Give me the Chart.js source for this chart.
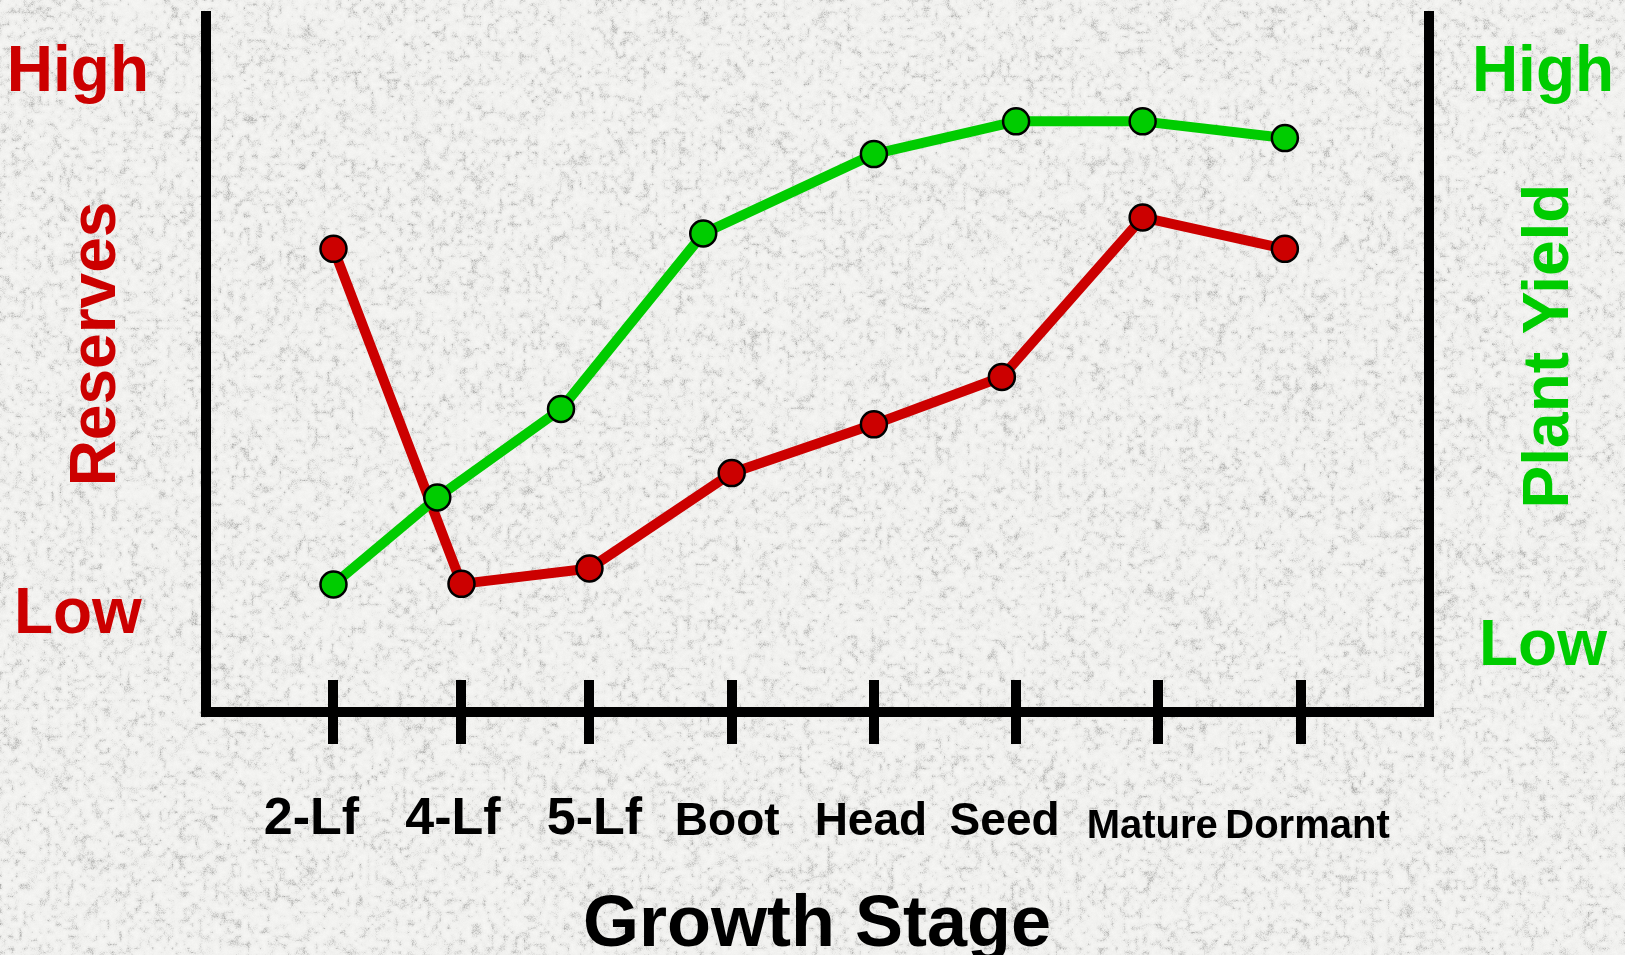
<!DOCTYPE html>
<html>
<head>
<meta charset="utf-8">
<title>Reserves and Plant Yield by Growth Stage</title>
<script src="https://cdn.jsdelivr.net/npm/chart.js@4/dist/chart.umd.min.js"></script>
<style>
  html, body { margin: 0; padding: 0; background: #ebebe9; }
  canvas { display: block; }
</style>
</head>
<body>
<canvas id="chart" width="1625" height="955"></canvas>
<script>
// ---- data -------------------------------------------------------------
const stages = ['2-Lf', '4-Lf', '5-Lf', 'Boot', 'Head', 'Seed', 'Mature', 'Dormant'];
// where each growth stage sits along the stage axis
const stagePos = [0, 0.9, 1.8, 2.8, 3.8, 4.8, 5.8, 6.8];

// carbohydrate reserves (0 = bottom of frame, 100 = top)
const reservesX = [0, 0.9, 1.8, 2.8, 3.8, 4.7, 5.69, 6.69];
const reservesY = [66.5, 18.4, 20.6, 34.3, 41.3, 48.1, 71.0, 66.5];

// plant yield on the same 0-100 frame
const yieldX = [0, 0.73, 1.6, 2.6, 3.8, 4.8, 5.69, 6.69];
const yieldY = [18.3, 30.8, 43.5, 68.7, 80.1, 84.8, 84.8, 82.4];

// qualitative tick labels for the two value axes
const reserveTickValues = [13.9, 91.7];
const reserveTickText = ['Low', 'High'];
const yieldTickValues = [9.3, 91.7];
const yieldTickText = ['Low', 'High'];

// ---- styling ----------------------------------------------------------
const RED = '#cc0000';
const GREEN = '#00cc00';
const INK = '#000000';
const FONT = '"Liberation Sans", Arial, Helvetica, sans-serif';

// stage names shrink a little toward the right end of the axis
const stageFontSize = { '2-Lf': 52, '4-Lf': 52, '5-Lf': 52, 'Boot': 46, 'Head': 46, 'Seed': 46, 'Mature': 40, 'Dormant': 40 };
// small sideways shifts of the stage names relative to their tick marks (px)
const stageNudge = { '2-Lf': -22, '4-Lf': -8.5, '5-Lf': 5, 'Boot': -4.5, 'Head': -3, 'Seed': -11.5, 'Mature': -6, 'Dormant': 7 };

function stageFont(index) {
  const size = stageFontSize[stages[index]] || 46;
  // line height chosen so the names share a baseline (smaller ones sit a touch lower)
  const drop = size <= 40 ? 55 : 52;
  const lh = 2 * (drop - 0.3465 * size);
  return { family: FONT, weight: 'bold', size: size, lineHeight: lh + 'px' };
}

// ---- textured paper background ------------------------------------------
function makeTexture(w, h) {
  const cv = document.createElement('canvas');
  cv.width = w; cv.height = h;
  const g = cv.getContext('2d');
  const img = g.createImageData(w, h);
  let s = 20240611;
  const rnd = () => {
    s = (s + 0x6D2B79F5) | 0;
    let t = Math.imul(s ^ (s >>> 15), 1 | s);
    t = (t + Math.imul(t ^ (t >>> 7), 61 | t)) ^ t;
    return ((t ^ (t >>> 14)) >>> 0) / 4294967296;
  };
  const cell = 4;
  const gw = Math.ceil(w / cell) + 2, gh = Math.ceil(h / cell) + 2;
  const grid = new Float32Array(gw * gh);
  for (let i = 0; i < grid.length; i++) grid[i] = rnd();
  for (let y = 0; y < h; y++) {
    const gy = y / cell, y0 = Math.floor(gy), fy = gy - y0;
    for (let x = 0; x < w; x++) {
      const gx = x / cell, x0 = Math.floor(gx), fx = gx - x0;
      const a = grid[y0 * gw + x0], b = grid[y0 * gw + x0 + 1];
      const c = grid[(y0 + 1) * gw + x0], d = grid[(y0 + 1) * gw + x0 + 1];
      const n = (a * (1 - fx) + b * fx) * (1 - fy) + (c * (1 - fx) + d * fx) * fy;
      const v = 0.75 * n + 0.25 * rnd();
      const dark = Math.max(0, v - 0.5) / 0.5;
      const base = 247 - 14 * v - 62 * dark * dark;
      const k = (y * w + x) * 4;
      img.data[k] = base; img.data[k + 1] = base; img.data[k + 2] = base - 2; img.data[k + 3] = 255;
    }
  }
  g.putImageData(img, 0, 0);
  return cv;
}
const paper = makeTexture(1625, 955);

const paperBackground = {
  id: 'paperBackground',
  beforeDraw(chart) {
    chart.ctx.drawImage(paper, 0, 0);
  }
};

// shift stage names sideways once the label layout is known
const stageLabelNudge = {
  id: 'stageLabelNudge',
  afterLayout(chart) {
    const xs = chart.scales.x;
    const items = xs.getLabelItems(chart.chartArea);
    items.forEach((item, i) => {
      const dx = stageNudge[stages[i]] || 0;
      item.options.translation[0] += dx;
    });
  }
};

// tick marks cross the stage axis: the library draws the lower half,
// this adds the half that rises into the plot
const stageTickStubs = {
  id: 'stageTickStubs',
  beforeDatasetsDraw(chart) {
    const xs = chart.scales.x;
    const { ctx, chartArea } = chart;
    ctx.save();
    ctx.strokeStyle = INK;
    ctx.lineWidth = 10;
    ctx.lineCap = 'butt';
    xs.ticks.forEach((t, i) => {
      const px = Math.round(xs.getPixelForTick(i));
      ctx.beginPath();
      ctx.moveTo(px, chartArea.bottom - 32);
      ctx.lineTo(px, chartArea.bottom);
      ctx.stroke();
    });
    ctx.restore();
  }
};

// rotated side titles, both reading upward
const sideTitles = {
  id: 'sideTitles',
  afterDraw(chart) {
    const ctx = chart.ctx;
    const draw = (text, x, y, color) => {
      ctx.save();
      ctx.translate(x, y);
      ctx.rotate(-Math.PI / 2);
      ctx.font = 'bold 64px ' + FONT;
      ctx.fillStyle = color;
      ctx.textAlign = 'center';
      ctx.textBaseline = 'middle';
      ctx.fillText(text, 0, 0);
      ctx.restore();
    };
    draw('Reserves', 97, 344, RED);
    draw('Plant Yield', 1550, 346, GREEN);
  }
};

function seriesLine(label, xs, ys, color, axis, order) {
  return {
    label: label,
    data: xs.map((x, i) => ({ x: x, y: ys[i] })),
    yAxisID: axis,
    order: order,
    borderColor: color,
    backgroundColor: color,
    borderWidth: 10,
    borderJoinStyle: 'round',
    borderCapStyle: 'round',
    tension: 0,
    pointRadius: 13,
    pointHoverRadius: 13,
    pointBackgroundColor: color,
    pointBorderColor: INK,
    pointBorderWidth: 2.5,
    clip: false
  };
}

new Chart(document.getElementById('chart'), {
  type: 'line',
  data: {
    datasets: [
      seriesLine('Plant Yield', yieldX, yieldY, GREEN, 'y2', 0),
      seriesLine('Reserves', reservesX, reservesY, RED, 'y', 1)
    ]
  },
  options: {
    responsive: false,
    animation: false,
    events: [],
    layout: { padding: { left: 7, right: 0, top: 13, bottom: 0 } },
    plugins: { legend: { display: false }, tooltip: { enabled: false } },
    scales: {
      x: {
        type: 'linear',
        position: 'bottom',
        min: -0.9,
        max: 7.7,
        afterBuildTicks: (s) => { s.ticks = stagePos.map(v => ({ value: v })); },
        afterFit: (s) => { s.height = 243; s.paddingLeft = 0; s.paddingRight = 0; },
        grid: { display: true, drawOnChartArea: false, drawTicks: true, tickLength: 32, lineWidth: 10, color: INK },
        border: { display: true, width: 10, color: INK },
        ticks: {
          autoSkip: false, maxRotation: 0, minRotation: 0,
          padding: 42,
          color: INK,
          callback: (v, i) => stages[i],
          font: (c) => stageFont(c.index)
        },
        title: {
          display: true,
          text: 'Growth Stage',
          color: INK,
          font: { family: FONT, weight: 'bold', size: 72, lineHeight: 0.8 },
          padding: { top: 0, bottom: 0 }
        }
      },
      y: {
        type: 'linear',
        position: 'left',
        min: 0,
        max: 100,
        afterBuildTicks: (s) => { s.ticks = reserveTickValues.map(v => ({ value: v })); },
        afterFit: (s) => { s.width = 198.5; s.paddingTop = 0; s.paddingBottom = 0; },
        grid: { display: false, drawTicks: false, lineWidth: 10 },
        border: { display: true, width: 10, color: INK },
        ticks: {
          autoSkip: false,
          crossAlign: 'center',
          padding: 56.5,
          color: RED,
          font: { family: FONT, weight: 'bold', size: 64 },
          callback: (v, i) => reserveTickText[i]
        }
      },
      y2: {
        type: 'linear',
        position: 'right',
        min: 0,
        max: 100,
        afterBuildTicks: (s) => { s.ticks = yieldTickValues.map(v => ({ value: v })); },
        afterFit: (s) => { s.width = 196.5; s.paddingTop = 0; s.paddingBottom = 0; },
        grid: { display: false, drawTicks: false, lineWidth: 10 },
        border: { display: true, width: 10, color: INK },
        ticks: {
          autoSkip: false,
          crossAlign: 'center',
          padding: 43.4,
          color: GREEN,
          font: { family: FONT, weight: 'bold', size: 64 },
          callback: (v, i) => yieldTickText[i]
        }
      }
    }
  },
  plugins: [paperBackground, stageLabelNudge, stageTickStubs, sideTitles]
});
</script>
</body>
</html>
